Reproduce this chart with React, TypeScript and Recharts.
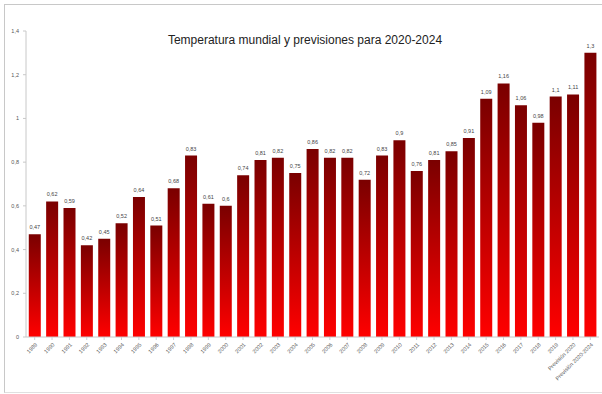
import { BarChart, Bar, XAxis, YAxis, LabelList } from 'recharts';

const years = [
  '1989', '1990', '1991', '1992', '1993', '1994', '1995', '1996', '1997', '1998',
  '1999', '2000', '2001', '2002', '2003', '2004', '2005', '2006', '2007', '2008',
  '2009', '2010', '2011', '2012', '2013', '2014', '2015', '2016', '2017', '2018',
  '2019', 'Previsión 2020', 'Previsión 2020-2024',
];

const anomaly = [
  0.47, 0.62, 0.59, 0.42, 0.45, 0.52, 0.64, 0.51, 0.68, 0.83,
  0.61, 0.6, 0.74, 0.81, 0.82, 0.75, 0.86, 0.82, 0.82, 0.72,
  0.83, 0.9, 0.76, 0.81, 0.85, 0.91, 1.09, 1.16, 1.06, 0.98,
  1.1, 1.11, 1.3,
];

const yTicks = [0, 0.2, 0.4, 0.6, 0.8, 1, 1.2, 1.4];

const chartData = years.map((year, i) => ({ year, value: anomaly[i] }));

const fmt = (v: number) => String(v).replace('.', ',');

const font = '"Liberation Sans", Arial, sans-serif';

const XTick = ({ x, y, payload }: any) => (
  <text
    x={x + 3}
    y={y + 3}
    textAnchor="end"
    fontSize={5.5}
    fill="#555"
    fontFamily={font}
    transform={`rotate(-45, ${x + 3}, ${y + 3})`}
  >
    {payload.value}
  </text>
);

export default function App() {
  return (
    <div style={{ position: 'absolute', left: 0, top: 0, width: 602, height: 394, background: '#fff' }}>
      <div
        style={{
          position: 'absolute', left: 4, top: 4, width: 620, height: 387,
          borderTop: '1px solid #c8c8c8', borderLeft: '1px solid #c8c8c8', borderBottom: '1px solid #e0e0e0',
        }}
      />
      <div
        style={{
          position: 'absolute', left: 0, right: 0, top: 33, textAlign: 'center', paddingLeft: 8,
          fontFamily: font, fontSize: 12, color: '#222',
        }}
      >
        Temperatura mundial y previsiones para 2020-2024
      </div>
      <div style={{ position: 'absolute', left: 0, top: 0 }}>
        <BarChart
          width={602}
          height={394}
          data={chartData}
          margin={{ top: 31, right: 3, bottom: 4, left: 4 }}
          barCategoryGap="16%"
        >
          <defs>
            <linearGradient id="redFade" x1="0" y1="0" x2="0" y2="1">
              <stop offset="0%" stopColor="#7a0000" />
              <stop offset="100%" stopColor="#ff0000" />
            </linearGradient>
          </defs>
          <XAxis
            dataKey="year"
            interval={0}
            height={53}
            tick={<XTick />}
            tickSize={3}
            axisLine={{ stroke: '#c8c8c8' }}
            tickLine={{ stroke: '#c8d0d8' }}
          />
          <YAxis
            width={22}
            domain={[0, 1.4]}
            ticks={yTicks}
            tickFormatter={fmt}
            tickSize={3}
            tickMargin={4}
            tick={{ fontSize: 5.5, fill: '#555', fontFamily: font }}
            axisLine={{ stroke: '#c8c8c8' }}
            tickLine={{ stroke: '#c8c8c8' }}
          />
          <Bar dataKey="value" fill="url(#redFade)" isAnimationActive={false}>
            <LabelList
              dataKey="value"
              position="top"
              offset={5}
              formatter={(v: any) => fmt(v)}
              style={{ fontSize: 5.5, fill: '#444', fontFamily: font }}
            />
          </Bar>
        </BarChart>
      </div>
    </div>
  );
}
